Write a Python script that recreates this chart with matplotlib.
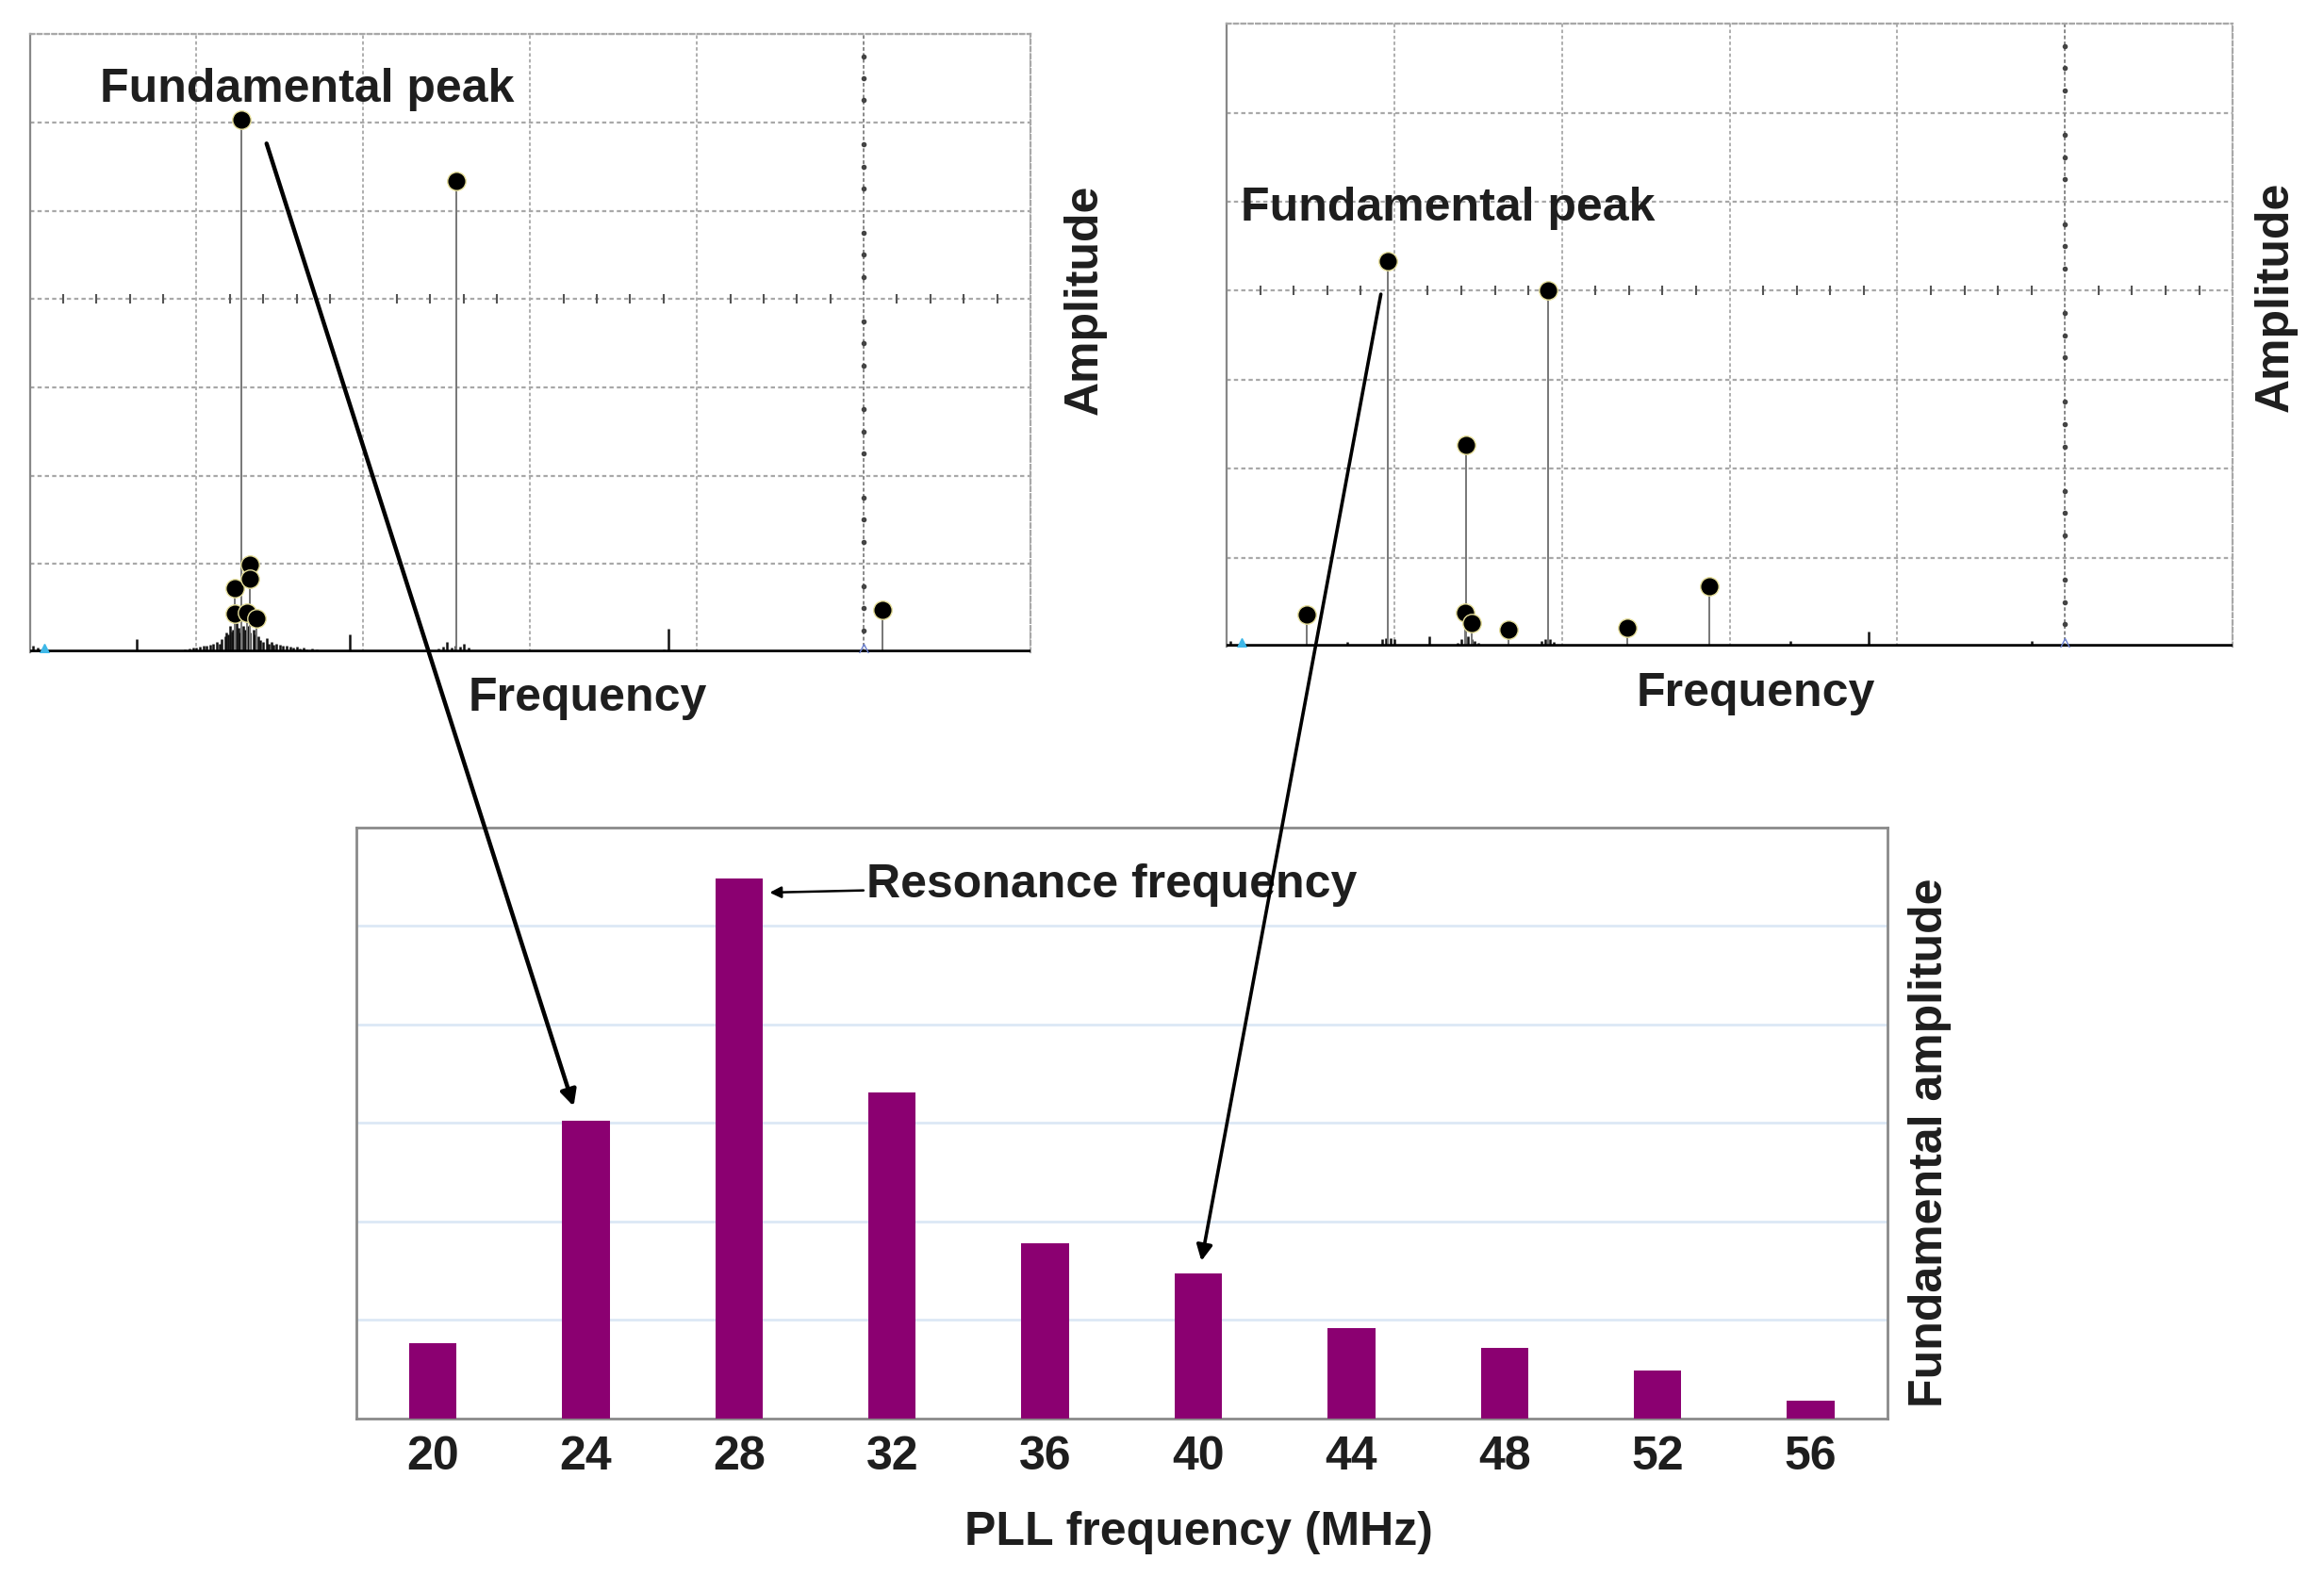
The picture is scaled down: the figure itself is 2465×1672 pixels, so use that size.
import matplotlib.pyplot as plt
from matplotlib.patches import ConnectionPatch

plt.rcParams['font.family'] = ['Liberation Sans', 'DejaVu Sans']
plt.rcParams['font.weight'] = 'bold'

# spectrum A (left, 24 MHz) - stem peaks in grid units
peaks_a_x = [1.27, 2.56, 1.23, 1.32, 1.32, 1.23, 1.30, 1.36, 5.11]
peaks_a_y = [6.03, 5.34, 0.73, 0.99, 0.83, 0.44, 0.45, 0.38, 0.48]
noise_a_x = [0.02, 0.05, 0.64, 0.90, 0.93, 0.96, 0.98, 1.00, 1.02, 1.04, 1.06, 1.08, 1.10,
             1.12, 1.14, 1.15, 1.17, 1.18, 1.19, 1.20, 1.21, 1.22, 1.24, 1.25, 1.26, 1.28,
             1.29, 1.31, 1.32, 1.34, 1.35, 1.37, 1.38, 1.40, 1.42, 1.43, 1.45, 1.46, 1.48,
             1.50, 1.52, 1.54, 1.56, 1.58, 1.60, 1.62, 1.64, 1.66, 1.69, 1.72, 1.75,
             1.92, 2.45, 2.48, 2.50, 2.53, 2.55, 2.58, 2.60, 2.63, 3.80, 3.83]
noise_a_y = [0.08, 0.05, 0.15, 0.02, 0.03, 0.04, 0.05, 0.05, 0.06, 0.08, 0.07, 0.09, 0.10,
             0.12, 0.10, 0.15, 0.18, 0.22, 0.20, 0.30, 0.24, 0.26, 0.33, 0.28, 0.22, 0.30,
             0.26, 0.30, 0.22, 0.26, 0.20, 0.18, 0.14, 0.12, 0.16, 0.10, 0.12, 0.09, 0.10,
             0.09, 0.07, 0.08, 0.06, 0.05, 0.06, 0.04, 0.05, 0.03, 0.04, 0.03, 0.02,
             0.20, 0.04, 0.06, 0.12, 0.05, 0.07, 0.06, 0.10, 0.05, 0.03, 0.27]

# spectrum B (right, 40 MHz)
peaks_b_x = [0.96, 1.92, 1.43, 0.48, 1.42, 1.46, 1.68, 2.39, 2.88]
peaks_b_y = [4.33, 4.00, 2.27, 0.36, 0.38, 0.27, 0.19, 0.21, 0.68]
noise_b_x = [0.02, 0.72, 0.93, 0.95, 0.98, 1.00, 1.21, 1.38, 1.40, 1.42, 1.44, 1.46, 1.48,
             1.50, 1.88, 1.90, 1.93, 1.95, 3.36, 3.83, 4.80]
noise_b_y = [0.06, 0.05, 0.08, 0.10, 0.10, 0.08, 0.12, 0.04, 0.08, 0.10, 0.12, 0.08, 0.06,
             0.04, 0.06, 0.08, 0.08, 0.05, 0.06, 0.17, 0.06]

# bar chart
pll_freq = ['20', '24', '28', '32', '36', '40', '44', '48', '52', '56']
fund_amp = [0.77, 3.02, 5.48, 3.31, 1.78, 1.47, 0.92, 0.72, 0.49, 0.18]

txt = '#1e1e1e'
fs = 36

fig = plt.figure(figsize=(24.65, 16.72), dpi=100)
ax_a = fig.add_axes([0.0128, 0.5861, 0.4306, 0.3923])
ax_b = fig.add_axes([0.5278, 0.5897, 0.4329, 0.3953])
ax_c = fig.add_axes([0.1533, 0.0999, 0.6588, 0.3750])


def spectrum(ax, px, py, nx, ny, label_x, label_y, freq_x, amp_x, amp_y):
    ax.set_xlim(0, 6)
    ax.set_ylim(0, 7)
    for v in range(1, 7):
        ax.axvline(v, color='#a8a8a8', lw=1.3, ls=(0, (2, 1.5)), zorder=1)
    for h in range(1, 8):
        ax.axhline(h, color='#a8a8a8', lw=1.6, ls=(0, (2, 1.5)), zorder=1)
    ax.axvline(5, color='#888888', lw=1.3, ls=(0, (2, 1.5)), zorder=1)
    # centre graticule ticks
    tx = [i / 5 for i in range(1, 30) if i % 5]
    ax.plot(tx, [4] * len(tx), ls='none', marker='|', ms=7, mew=1.5, color='#555555', zorder=2)
    ty = [i / 4 for i in range(1, 28) if i % 4]
    ax.plot([5] * len(ty), ty, ls='none', marker='o', ms=3, color='#444444', zorder=2)
    ax.vlines(nx, 0, ny, color='#111111', lw=1.8, zorder=3)
    ax.vlines(px, 0, py, color='#777777', lw=1.4, zorder=3)
    ax.plot(px, py, ls='none', marker='o', ms=14, color='black', mec='#e6df9a', mew=1, zorder=4)
    ax.plot([0.09], [0.03], ls='none', marker='^', ms=9, color='#3fb8e8', zorder=6)
    ax.plot([5.0], [0.03], ls='none', marker='^', ms=9, mfc='none', mec='#6a7fd0', zorder=6)
    ax.axhline(0, color='black', lw=4, zorder=5)
    for s in ['top', 'right']:
        ax.spines[s].set_color('#a8a8a8')
        ax.spines[s].set_linestyle((0, (2, 1.5)))
        ax.spines[s].set_linewidth(1.6)
    ax.spines['left'].set_color('#888888')
    ax.spines['left'].set_linewidth(1.6)
    ax.spines['bottom'].set_visible(False)
    ax.set_xticks([])
    ax.set_yticks([])
    ax.text(label_x, label_y, 'Fundamental peak', fontsize=fs, color=txt, va='center', ha='left')
    ax.text(freq_x, -0.075, 'Frequency', transform=ax.transAxes, fontsize=fs, color=txt,
            ha='center', va='center')
    ax.text(amp_x, amp_y, 'Amplitude', transform=ax.transAxes, fontsize=fs, color=txt,
            ha='center', va='center', rotation=90)


spectrum(ax_a, peaks_a_x, peaks_a_y, noise_a_x, noise_a_y, 0.42, 6.37, 0.557, 1.054, 0.57)
spectrum(ax_b, peaks_b_x, peaks_b_y, noise_b_x, noise_b_y, 0.084, 4.92, 0.526, 1.043, 0.561)

# bar chart
xs = list(range(len(pll_freq)))
ax_c.bar(xs, fund_amp, width=0.31, color='#8b0071', zorder=3)
ax_c.set_xlim(-0.5, 9.5)
ax_c.set_ylim(0, 6)
ax_c.set_yticks([1, 2, 3, 4, 5])
ax_c.yaxis.grid(True, color='#dce8f6', lw=2)
ax_c.set_yticklabels([])
ax_c.tick_params(axis='y', length=0)
ax_c.set_xticks(xs)
ax_c.set_xticklabels(pll_freq, fontsize=fs, color=txt)
ax_c.tick_params(axis='x', length=0, pad=13)
for s in ax_c.spines.values():
    s.set_color('#8a8a8a')
    s.set_linewidth(2)
ax_c.text(0.55, -0.193, 'PLL frequency (MHz)', transform=ax_c.transAxes, fontsize=fs,
          color=txt, ha='center', va='center')
ax_c.text(1.028, 0.467, 'Fundamental amplitude', transform=ax_c.transAxes, fontsize=fs,
          color=txt, ha='center', va='center', rotation=90)
ax_c.annotate('Resonance frequency', xy=(2.2, 5.34), xytext=(2.83, 5.42), fontsize=fs,
              color=txt, va='center', ha='left',
              arrowprops=dict(arrowstyle='-|>', color='black', lw=1.8, mutation_scale=18,
                              shrinkA=0, shrinkB=0))

# arrows from the spectra's fundamental peaks to their bars
con_a = ConnectionPatch(xyA=(1.42, 5.76), coordsA=ax_a.transData,
                        xyB=(xs[1] - 0.08, fund_amp[1] + 0.15), coordsB=ax_c.transData,
                        arrowstyle='-|>', color='black', lw=3.2, mutation_scale=25,
                        shrinkA=0, shrinkB=0, zorder=10)
con_b = ConnectionPatch(xyA=(0.92, 3.96), coordsA=ax_b.transData,
                        xyB=(xs[5] + 0.02, fund_amp[5] + 0.13), coordsB=ax_c.transData,
                        arrowstyle='-|>', color='black', lw=2.6, mutation_scale=25,
                        shrinkA=0, shrinkB=0, zorder=10)
fig.add_artist(con_a)
fig.add_artist(con_b)

fig.savefig('out.png', dpi=100)
